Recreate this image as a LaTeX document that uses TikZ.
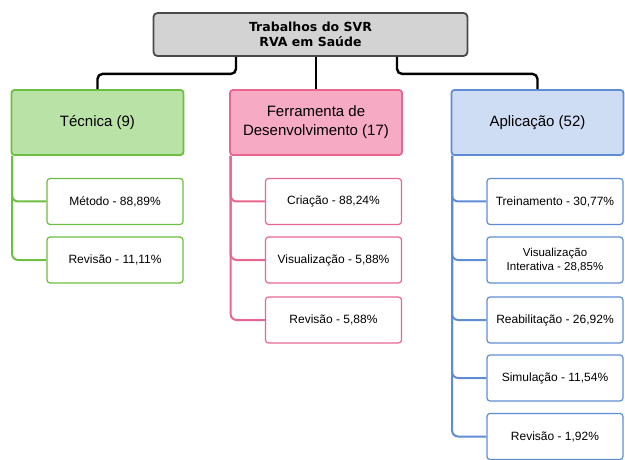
\documentclass[tikz,border=0pt]{standalone}
\usepackage{fontspec}
\setmainfont{Liberation Sans}
\newfontfamily\rootfont{DejaVu Sans}
\definecolor{rfill}{HTML}{D3D3D3}
\definecolor{rline}{HTML}{4A4A4A}
\definecolor{gfill}{HTML}{B9E2A6}
\definecolor{gline}{HTML}{6CBF3F}
\definecolor{pfill}{HTML}{F6AAC3}
\definecolor{pline}{HTML}{E9678F}
\definecolor{bfill}{HTML}{CFDDF4}
\definecolor{bline}{HTML}{5E8DD6}
\tikzset{
  rootbox/.style={draw=rline, fill=rfill, line width=1.8pt, rounded corners=4pt,
    minimum width=314pt, minimum height=43pt, inner sep=0pt, align=center,
    font=\rootfont\bfseries\fontsize{12.5}{15}\selectfont},
  catbox/.style={line width=1.8pt, rounded corners=3pt, minimum width=172pt,
    minimum height=65pt, inner sep=0pt, align=center,
    font=\fontsize{15}{19}\selectfont},
  itembox/.style={line width=1.2pt, rounded corners=3pt, fill=white, minimum width=136pt,
    minimum height=46pt, inner sep=0pt, align=center,
    font=\fontsize{12}{14}\selectfont},
  conn/.style={draw=black, line width=2.4pt, rounded corners=5pt},
  trunk/.style={line width=2pt, rounded corners=6pt},
}
\begin{document}
\begin{tikzpicture}[x=1pt,y=-1pt]
\useasboundingbox (0,0) rectangle (625,460);
\node[rootbox] (root) at (310.5,34.5) {Trabalhos do SVR\\RVA em Saúde};
\node[catbox, draw=gline, fill=gfill] (tec) at (97.5,122.5) {Técnica (9)};
\node[catbox, draw=pline, fill=pfill] (fer) at (316,122.5) {Ferramenta de\\Desenvolvimento (17)};
\node[catbox, draw=bline, fill=bfill] (apl) at (537.5,122.5) {Aplicação (52)};

\node[itembox, draw=gline] (g1) at (115,201.5) {Método - 88,89\%};
\node[itembox, draw=gline] (g2) at (115,260) {Revisão - 11,11\%};

\node[itembox, draw=pline] (p1) at (333.5,201.5) {Criação - 88,24\%};
\node[itembox, draw=pline] (p2) at (333.5,260) {Visualização - 5,88\%};
\node[itembox, draw=pline] (p3) at (333.5,320) {Revisão - 5,88\%};

\node[itembox, draw=bline] (b1) at (555,201.5) {Treinamento - 30,77\%};
\node[itembox, draw=bline, font=\fontsize{11.5}{13.5}\selectfont] (b2) at (555,260) {Visualização\\Interativa - 28,85\%};
\node[itembox, draw=bline] (b3) at (555,320) {Reabilitação - 26,92\%};
\node[itembox, draw=bline] (b4) at (555,378) {Simulação - 11,54\%};
\node[itembox, draw=bline] (b5) at (555,436.5) {Revisão - 1,92\%};

\draw[conn] ([xshift=-74.5pt]root.south) -- ++(0,17) -| (tec.north);
\draw[conn] (root.south -| fer.north) -- (fer.north);
\draw[conn] ([xshift=86.5pt]root.south) -- ++(0,17) -| (apl.north);

\foreach \c in {g1,g2} \draw[trunk, draw=gline] ([xshift=1.5pt]tec.south west) |- (\c.west);
\foreach \c in {p1,p2,p3} \draw[trunk, draw=pline] ([xshift=1.5pt]fer.south west) |- (\c.west);
\foreach \c in {b1,b2,b3,b4,b5} \draw[trunk, draw=bline] ([xshift=1.5pt]apl.south west) |- (\c.west);
\end{tikzpicture}
\end{document}
